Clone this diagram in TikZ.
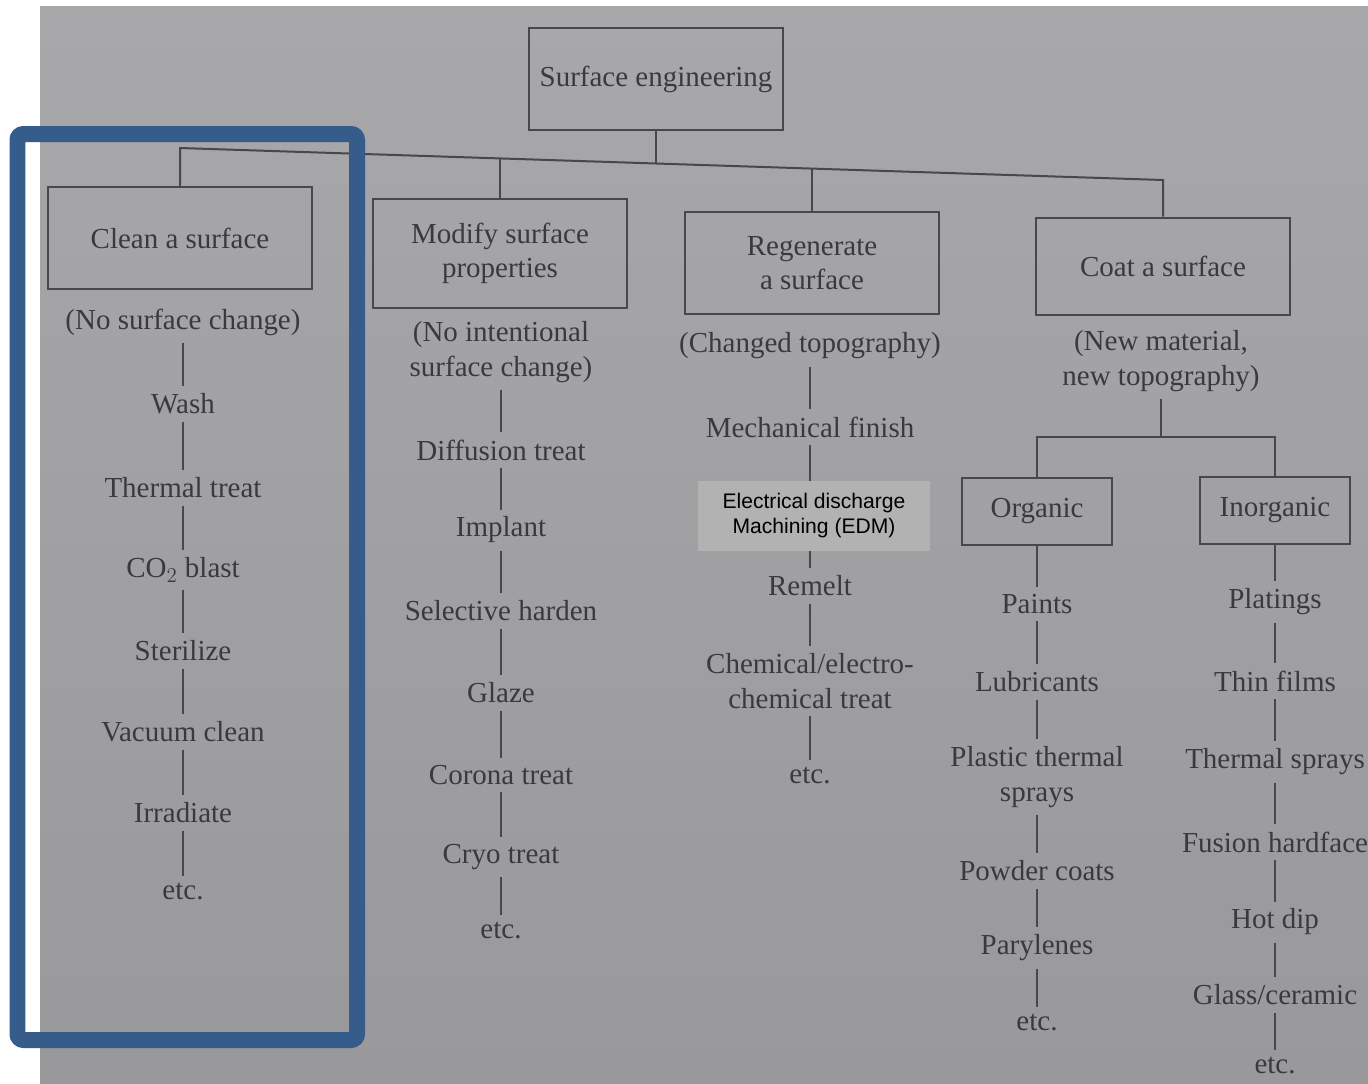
\documentclass[tikz,border=0pt]{standalone}
\usepackage{fontspec}
\setmainfont{Liberation Serif}
\newfontfamily\edmfont{Liberation Sans}
\usetikzlibrary{calc}

\definecolor{pagetop}{RGB}{168,167,170}
\definecolor{pagebottom}{RGB}{153,152,155}
\definecolor{inkgray}{RGB}{58,58,60}
\definecolor{linegray}{RGB}{72,72,74}
\definecolor{edmgray}{RGB}{178,178,178}
\definecolor{frameblue}{RGB}{54,92,140}

\tikzset{
    link/.style={draw=linegray, line width=0.04cm},
    txt/.style={font=\fontsize{16.5}{19.5}\selectfont, text=inkgray, align=center, inner sep=0.14cm},
    catbox/.style={txt, draw=linegray, line width=0.04cm, minimum width=5.1cm, minimum height=2.05cm, inner sep=0pt},
    subbox/.style={catbox, minimum width=3cm, minimum height=1.34cm},
}

\begin{document}
\begin{tikzpicture}[x=0.02cm, y=-0.02cm]
        \useasboundingbox (0,0) rectangle (1368,1083);
        \clip (0,0) rectangle (1368,1083);
        \fill[white] (0,0) rectangle (1368,1083);
        \shade[top color=pagetop, bottom color=pagebottom] (40,6) rectangle (1368,1083);

        % top of the tree
        \node[catbox] (root) at (656,79) {Surface engineering};
        \node[catbox, minimum width=5.3cm] (clean) at (180,238) {Clean a surface};
        \node[catbox, minimum height=2.18cm] (modify) at (500,253) {Modify surface\\properties};
        \node[catbox] (regen) at (812,263) {Regenerate\\a surface};
        \node[catbox, minimum height=1.94cm] (coat) at (1163,266) {Coat a surface};

        \coordinate (busL) at (180,148);
        \coordinate (busR) at (1163,180);
        \coordinate (jmod) at (500,158.4);
        \coordinate (jroot) at (656,163.5);
        \coordinate (jreg) at (812,168.6);
        \draw[link] (clean) -- (busL) -- (busR) -- (coat);
        \draw[link] (root) -- (jroot);
        \draw[link] (jmod) -- (modify);
        \draw[link] (jreg) -- (regen);

        % clean a surface
        \node[txt] (c0) at (183,322) {(No surface change)};
        \node[txt] (c1) at (183,404) {Wash};
        \node[txt] (c2) at (183,488) {Thermal treat};
        \node[txt] (c3) at (183,570) {CO$_2$ blast};
        \node[txt] (c4) at (183,651) {Sterilize};
        \node[txt] (c5) at (183,732) {Vacuum clean};
        \node[txt] (c6) at (183,813) {Irradiate};
        \node[txt] (c7) at (183,892) {etc.};
        \foreach \a/\b in {c0/c1,c1/c2,c2/c3,c3/c4,c4/c5,c5/c6,c6/c7}
            \draw[link] (\a) -- (\b);

        % modify surface properties
        \node[txt] (m0) at (501,352) {(No intentional\\surface change)};
        \node[txt] (m1) at (501,450) {Diffusion treat};
        \node[txt] (m2) at (501,530) {Implant};
        \node[txt] (m3) at (501,611) {Selective harden};
        \node[txt] (m4) at (501,693) {Glaze};
        \node[txt] (m5) at (501,775) {Corona treat};
        \node[txt] (m6) at (501,857) {Cryo treat};
        \node[txt] (m7) at (501,931) {etc.};
        \foreach \a/\b in {m0/m1,m1/m2,m2/m3,m3/m4,m4/m5,m5/m6,m6/m7}
            \draw[link] (\a) -- (\b);

        % regenerate a surface
        \node[txt] (r0) at (810,346) {(Changed topography)};
        \node[txt] (r1) at (810,427) {Mechanical finish};
        \node[txt] (r3) at (810,586) {Remelt};
        \node[txt] (r4) at (810,681) {Chemical/electro-\\chemical treat};
        \node[txt] (r5) at (810,776) {etc.};
        \foreach \a/\b in {r0/r1,r1/r3,r3/r4,r4/r5}
            \draw[link] (\a) -- (\b);
        \node[fill=edmgray, text=black, font=\edmfont\fontsize{12}{14.2}\selectfont, align=center,
            inner sep=0pt, minimum width=4.64cm, minimum height=1.4cm] (r2) at (814,516)
            {Electrical discharge\\Machining (EDM)};

        % coat a surface
        \node[txt] (k0) at (1161,361) {(New material,\\new topography)};
        \coordinate (kbus) at (1161,437);
        \node[subbox] (org) at (1037,511) {Organic};
        \node[subbox] (inorg) at (1275,510) {Inorganic};
        \draw[link] (k0) -- (kbus) -| (org);
        \draw[link] (kbus) -| (inorg);

        \node[txt] (o1) at (1037,604) {Paints};
        \node[txt] (o2) at (1037,682) {Lubricants};
        \node[txt] (o3) at (1037,777) {Plastic thermal\\sprays};
        \node[txt] (o4) at (1037,871) {Powder coats};
        \node[txt] (o5) at (1037,948) {Parylenes};
        \node[txt] (o6) at (1037,1023) {etc.};
        \foreach \a/\b in {org/o1,o1/o2,o2/o3,o3/o4,o4/o5,o5/o6}
            \draw[link] (\a) -- (\b);

        \node[txt] (i1) at (1275,602) {Platings};
        \node[txt] (i2) at (1275,681) {Thin films};
        \node[txt] (i3) at (1275,762) {Thermal sprays};
        \node[txt] (i4) at (1275,842) {Fusion hardface};
        \node[txt] (i5) at (1275,922) {Hot dip};
        \node[txt] (i6) at (1275,995) {Glass/ceramic};
        \node[txt] (i7) at (1275,1066) {etc.};
        \foreach \a/\b in {inorg/i1,i1/i2,i2/i3,i3/i4,i4/i5,i5/i6,i6/i7}
            \draw[link] (\a) -- (\b);

        % highlight frame
        \draw[frameblue, line width=0.32cm, rounded corners=0.12cm] (17.5,134) rectangle (357,1040);
\end{tikzpicture}
\end{document}
